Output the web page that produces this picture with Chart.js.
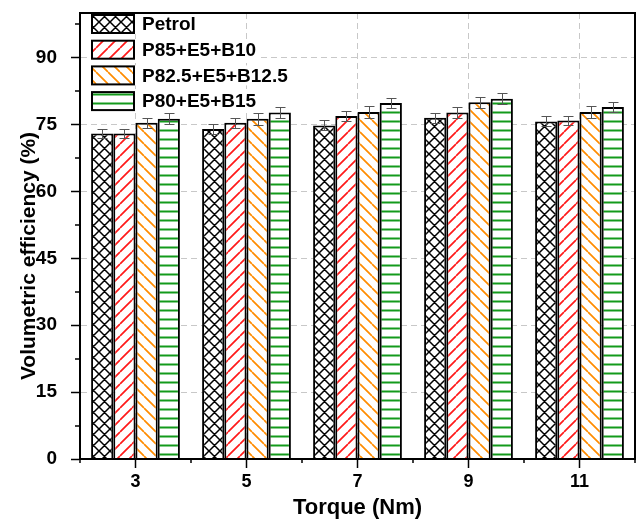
<!DOCTYPE html>
<html lang="en">
<head>
<meta charset="UTF-8" />
<script src="https://cdn.jsdelivr.net/npm/chart.js@4/dist/chart.umd.min.js"></script>
<title>Volumetric efficiency vs torque</title>
<style>html, body { margin: 0; padding: 0; background: #fff; }</style>
</head>
<body>
<canvas id="chart" width="637" height="519"></canvas>
<script>
  // values
  const torque = ["3", "5", "7", "9", "11"];
  const seriesNames = ["Petrol", "P85+E5+B10", "P82.5+E5+B12.5", "P80+E5+B15"];
  const petrol = [73.0, 74.0, 74.8, 76.5, 75.7];
  const p85 = [73.0, 75.4, 76.9, 77.7, 75.9];
  const p825 = [75.4, 76.3, 77.8, 80.0, 77.8];
  const p80 = [76.3, 77.7, 79.8, 80.8, 78.9];
  const petrolErr = [1.05, 1.1, 1.1, 1.1, 1.1];
  const p85Err = [1.05, 1.1, 1.2, 1.2, 1.1];
  const p825Err = [1.1, 1.3, 1.25, 1.2, 1.25];
  const p80Err = [1.25, 1.2, 1.2, 1.25, 1.2];
  const yTicks = [0, 15, 30, 45, 60, 75, 90];
  const yTitle = "Volumetric efficiency (%)";
  const xTitle = "Torque (Nm)";

  const FONT = "'Liberation Sans', Arial, sans-serif";

  function makePattern(kind, color) {
    const s = kind === "hline" ? 9 : (kind === "cross" ? 11 : 12);
    const c = document.createElement("canvas");
    c.width = s; c.height = s;
    const g = c.getContext("2d");
    g.fillStyle = "#fff";
    g.fillRect(0, 0, s, s);
    g.strokeStyle = color;
    g.lineWidth = kind === "cross" ? 1.5 : 1.7;
    g.beginPath();
    if (kind === "hline") {
      g.lineWidth = 2;
      g.moveTo(0, 4.5); g.lineTo(s, 4.5);
    }
    if (kind === "fwd" || kind === "cross") {
      [-s, 0, s].forEach(k => { g.moveTo(k, s); g.lineTo(k + s, 0); });
    }
    if (kind === "back" || kind === "cross") {
      [-s, 0, s].forEach(k => { g.moveTo(k, 0); g.lineTo(k + s, s); });
    }
    g.stroke();
    return g.createPattern(c, "repeat");
  }

  const fills = [
    makePattern("cross", "#000"),
    makePattern("fwd", "#ff1a1a"),
    makePattern("back", "#ff8c00"),
    makePattern("hline", "#139a1b")
  ];
  const values = [petrol, p85, p825, p80];
  const errors = [petrolErr, p85Err, p825Err, p80Err];

  const errorBars = {
    id: "errorBars",
    afterDatasetsDraw(chart) {
      const ctx = chart.ctx;
      const y = chart.scales.y;
      ctx.save();
      ctx.strokeStyle = "#555";
      ctx.lineWidth = 1;
      chart.data.datasets.forEach((ds, i) => {
        chart.getDatasetMeta(i).data.forEach((bar, j) => {
          const x = Math.round(bar.x) + 0.5;
          const t = Math.round(y.getPixelForValue(ds.data[j] + errors[i][j])) + 0.5;
          const b = Math.round(y.getPixelForValue(ds.data[j] - errors[i][j])) + 0.5;
          ctx.beginPath();
          ctx.moveTo(x, t); ctx.lineTo(x, b);
          ctx.moveTo(x - 5, t); ctx.lineTo(x + 5, t);
          ctx.moveTo(x - 5, b); ctx.lineTo(x + 5, b);
          ctx.stroke();
        });
      });
      ctx.restore();
    }
  };

  const boxLegend = {
    id: "boxLegend",
    beforeDatasetsDraw(chart) {
      const ctx = chart.ctx;
      const ca = chart.chartArea;
      ctx.save();
      ctx.font = "bold 19px " + FONT;
      ctx.textBaseline = "middle";
      chart.data.datasets.forEach((ds, i) => {
        const y = ca.top + 11 + i * 25.7;
        const w = ctx.measureText(ds.label).width;
        ctx.fillStyle = "#fff";
        ctx.fillRect(ca.left + 9, y - 10, 56 + w, 20);
        ctx.fillStyle = ds.backgroundColor;
        ctx.fillRect(ca.left + 12, y - 9, 42, 18);
        ctx.lineWidth = 2;
        ctx.strokeStyle = "#000";
        ctx.strokeRect(ca.left + 12, y - 9, 42, 18);
        ctx.fillStyle = "#000";
        ctx.fillText(ds.label, ca.left + 62, y + 1);
      });
      ctx.restore();
    }
  };

  const frame = {
    id: "frame",
    afterDraw(chart) {
      const ctx = chart.ctx;
      const ca = chart.chartArea;
      ctx.save();
      ctx.strokeStyle = "#000";
      ctx.lineWidth = 2;
      ctx.strokeRect(ca.left, ca.top, ca.right - ca.left, ca.bottom - ca.top);
      ctx.lineWidth = 1.5;
      ctx.beginPath();
      // minor ticks
      for (let v = 7.5; v < 100; v += 15) {
        const py = Math.round(chart.scales.y.getPixelForValue(v));
        ctx.moveTo(ca.left, py); ctx.lineTo(ca.left - 5, py);
      }
      const step = (ca.right - ca.left) / torque.length;
      for (let k = 0; k <= torque.length; k++) {
        const px = Math.round(ca.left + k * step);
        ctx.moveTo(px, ca.bottom); ctx.lineTo(px, ca.bottom + 4);
      }
      ctx.stroke();
      // y axis title, sits a bit below the middle of the axis
      ctx.translate(29, (ca.top + ca.bottom) / 2 + 20);
      ctx.rotate(-Math.PI / 2);
      ctx.font = "bold 21px " + FONT;
      ctx.fillStyle = "#000";
      ctx.textAlign = "center";
      ctx.textBaseline = "middle";
      ctx.fillText(yTitle, 0, 0);
      ctx.restore();
    }
  };

  new Chart(document.getElementById("chart"), {
    type: "bar",
    data: {
      labels: torque,
      datasets: seriesNames.map((name, i) => ({
        label: name,
        data: values[i],
        backgroundColor: fills[i],
        borderColor: "#000",
        borderWidth: 2,
        barPercentage: 1,
        categoryPercentage: 0.8
      }))
    },
    options: {
      responsive: false,
      animation: false,
      layout: { padding: { top: 13, right: 2, left: 0, bottom: 0 } },
      plugins: { legend: { display: false }, tooltip: { enabled: false } },
      scales: {
        x: {
          offset: true,
          afterFit: (scale) => { scale.height = 60; },
          grid: { offset: false, color: "#c8c8c8", lineWidth: 1, tickColor: "#000", tickWidth: 1.5, tickLength: 9, tickBorderDash: [] },
          border: { display: true, color: "#000", width: 2, dash: [6, 4] },
          ticks: { color: "#000", padding: 3, font: { family: FONT, size: 18, weight: "bold" } },
          title: { display: true, text: xTitle, color: "#000", padding: 0, font: { family: FONT, size: 22, weight: "bold", lineHeight: 1 } }
        },
        y: {
          min: 0,
          max: 100,
          afterFit: (scale) => {
            scale.width = 80;
            scale.paddingTop = 0;
            scale.paddingBottom = 0;
          },
          grid: { color: "#c8c8c8", lineWidth: 1, tickColor: "#000", tickWidth: 1.5, tickLength: 9, tickBorderDash: [] },
          border: { display: true, color: "#000", width: 2, dash: [6, 4] },
          ticks: {
            stepSize: yTicks[1] - yTicks[0],
            includeBounds: false,
            color: "#000",
            padding: 14,
            font: { family: FONT, size: 19, weight: "bold" }
          },
          title: { display: false, text: yTitle }
        }
      }
    },
    plugins: [boxLegend, errorBars, frame]
  });
</script>
</body>
</html>
